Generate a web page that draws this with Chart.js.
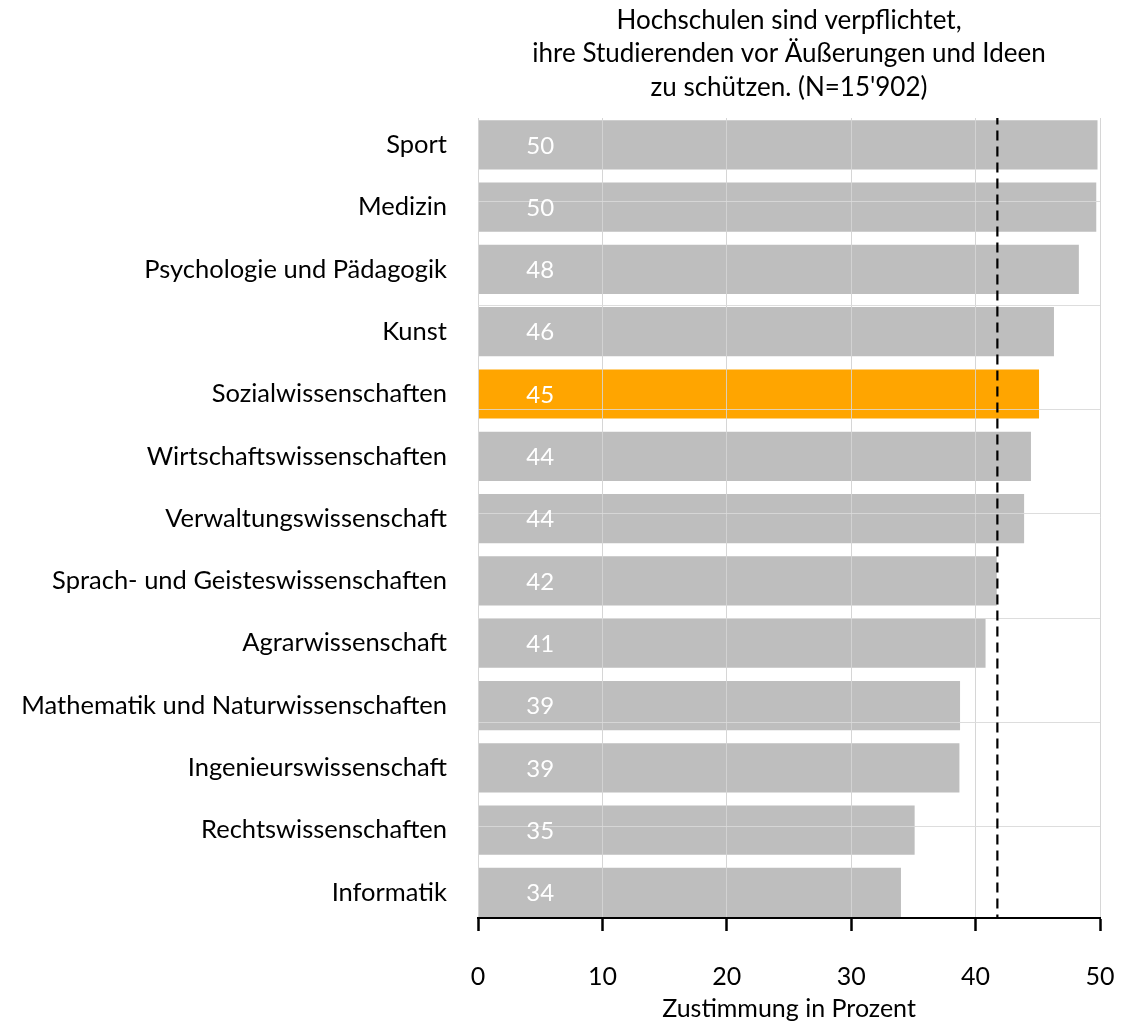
<!DOCTYPE html>
<html>
<head>
<meta charset="utf-8">
<script src="https://cdn.jsdelivr.net/npm/chart.js@4.4.0/dist/chart.umd.min.js"></script>
<style>
html,body{margin:0;padding:0;background:#fff;}
#wrap{width:1122px;height:1025px;}
</style>
</head>
<body>
<div id="wrap"><canvas id="c" width="1122" height="1025"></canvas></div>
<script>
const categories = ['Sport','Medizin','Psychologie und Pädagogik','Kunst','Sozialwissenschaften','Wirtschaftswissenschaften','Verwaltungswissenschaft','Sprach- und Geisteswissenschaften','Agrarwissenschaft','Mathematik und Naturwissenschaften','Ingenieurswissenschaft','Rechtswissenschaften','Informatik'];
const values = [49.8, 49.7, 48.3, 46.3, 45.1, 44.45, 43.9, 41.7, 40.8, 38.75, 38.7, 35.1, 34.0];
const highlightCategory = 'Sozialwissenschaften';
const averageValue = 41.75;
const xTickValues = [0, 10, 20, 30, 40, 50];
const refGridTicks = [0, 1, 2, 3, 4, 5, 6];
const titleLines = ['Hochschulen sind verpflichtet,', 'ihre Studierenden vor Äußerungen und Ideen', "zu schützen. (N=15'902)"];
const xAxisTitle = 'Zustimmung in Prozent';

const FONT = 'Lato, "Open Sans", sans-serif';
const GREY = '#bebebe';
const ORANGE = '#ffa500';

function build() {
  Chart.defaults.font.family = FONT;
  Chart.defaults.color = '#000';

  const barData = categories.map((c, i) => ({ x: values[i], y: i }));

  const gridOnTop = {
    id: 'gridOnTop',
    beforeDatasetDraw(chart, args) {
      if (args.index === 0) {
        chart.scales.x.drawGrid(chart.chartArea);
        chart.scales.yGrid.drawGrid(chart.chartArea);
      }
    }
  };

  const valueLabels = {
    id: 'valueLabels',
    afterDatasetsDraw(chart) {
      const meta = chart.getDatasetMeta(1);
      const xs = chart.scales.x;
      const ctx = chart.ctx;
      ctx.save();
      ctx.fillStyle = '#fff';
      ctx.font = '24px ' + FONT;
      ctx.textAlign = 'center';
      ctx.textBaseline = 'middle';
      meta.data.forEach((el, i) => {
        ctx.fillText(String(Math.round(values[i])), xs.getPixelForValue(5), el.y + 1);
      });
      ctx.restore();
    }
  };

  new Chart(document.getElementById('c'), {
    data: {
      datasets: [
        {
          type: 'line',
          label: 'Durchschnitt',
          data: [{ x: averageValue, y: -1 }, { x: averageValue, y: categories.length }],
          xAxisID: 'x',
          yAxisID: 'y',
          borderColor: '#000',
          borderWidth: 2.2,
          borderDash: [10, 6],
          pointRadius: 0,
          fill: false,
          order: 0
        },
        {
          type: 'bar',
          label: 'Zustimmung',
          data: barData,
          xAxisID: 'x',
          yAxisID: 'y',
          backgroundColor: categories.map(c => c === highlightCategory ? ORANGE : GREY),
          borderWidth: 0,
          barPercentage: 0.79,
          categoryPercentage: 1,
          order: 1
        }
      ]
    },
    options: {
      indexAxis: 'y',
      responsive: false,
      devicePixelRatio: 1,
      animation: false,
      events: [],
      layout: { padding: { left: 0, right: 22, top: 0, bottom: 0 } },
      plugins: {
        legend: { display: false },
        tooltip: { enabled: false },
        title: { display: false }
      },
      scales: {
        x: {
          type: 'linear',
          position: 'bottom',
          min: 0,
          max: 50,
          afterBuildTicks: s => { s.ticks = xTickValues.map(v => ({ value: v })); },
          afterFit: s => { s.height = 107; s.paddingLeft = 0; s.paddingRight = 0; },
          grid: {
            color: 'rgba(214,214,214,0.85)',
            lineWidth: 1,
            drawTicks: true,
            tickLength: 13,
            tickWidth: 2,
            tickColor: '#000'
          },
          border: { display: true, color: '#000', width: 2 },
          ticks: { font: { size: 25 }, color: '#000', padding: 31 },
          title: {
            display: true,
            text: xAxisTitle,
            font: { size: 25 },
            color: '#000',
            padding: { top: 4, bottom: 1 }
          }
        },
        xTop: {
          type: 'linear',
          position: 'top',
          min: 0,
          max: 50,
          afterFit: s => { s.paddingLeft = 0; s.paddingRight = 0; },
          grid: { display: false, drawTicks: false },
          border: { display: false },
          ticks: { display: false },
          title: {
            display: true,
            text: titleLines,
            font: { size: 26, lineHeight: 1.3 },
            color: '#000',
            padding: { top: 3.4, bottom: 13.2 }
          }
        },
        y: {
          type: 'linear',
          position: 'left',
          reverse: true,
          offset: false,
          min: -0.43,
          max: 12.41,
          afterBuildTicks: s => { s.ticks = categories.map((c, i) => ({ value: i })); },
          afterFit: s => { s.width = 478; },
          grid: { display: false, drawTicks: false, offset: false },
          border: { display: false },
          ticks: {
            font: { size: 25.5 },
            color: '#000',
            padding: 31,
            callback: v => categories[v] !== undefined ? categories[v] : ''
          }
        },
        yGrid: {
          type: 'linear',
          position: 'right',
          min: -0.881,
          max: 6.804,
          afterBuildTicks: s => { s.ticks = refGridTicks.map(v => ({ value: v })); },
          afterFit: s => { s.width = 0; },
          grid: { color: 'rgba(220,220,220,0.8)', lineWidth: 1, drawTicks: false },
          border: { display: false },
          ticks: { display: false }
        }
      }
    },
    plugins: [gridOnTop, valueLabels]
  });
}

if (document.fonts && document.fonts.load) {
  Promise.all([document.fonts.load('25px Lato'), document.fonts.load('24px Lato')]).then(build, build);
} else {
  build();
}
</script>
</body>
</html>
